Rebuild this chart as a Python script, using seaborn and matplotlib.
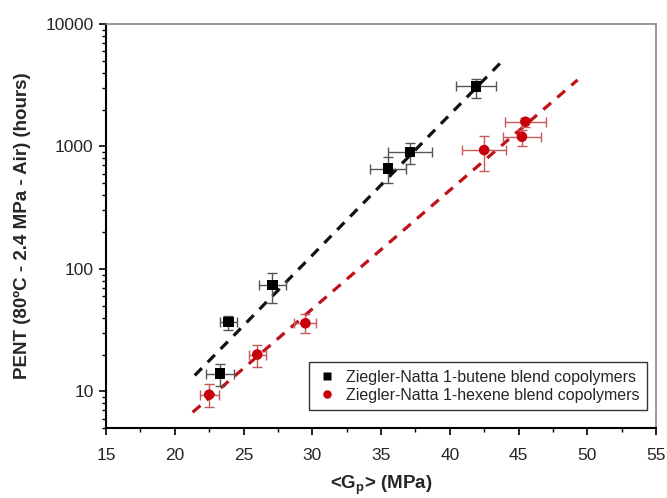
import numpy as np
import pandas as pd
import matplotlib
matplotlib.use("Agg")
import matplotlib.pyplot as plt
import seaborn as sns
from matplotlib.ticker import LogLocator, NullFormatter, MultipleLocator, FixedLocator

sns.set_style("white")
plt.rcParams['font.family'] = ['Liberation Sans', 'DejaVu Sans']

# ---- data ----
series_names = ["Ziegler-Natta 1-butene blend copolymers",
                "Ziegler-Natta 1-hexene blend copolymers"]

butene_gp = [41.9, 37.1, 35.5, 27.1, 23.9, 23.3]
butene_pent = [3100, 900, 660, 74, 37, 14]
butene_xerr = [1.45, 1.6, 1.3, 1.0, 0.6, 1.0]
butene_ylo = [2500, 713, 502, 53, 32, 11]
butene_yhi = [3560, 1070, 813, 93, 41, 16.8]

hexene_gp = [45.5, 45.25, 42.5, 29.5, 26.0, 22.5]
hexene_pent = [1590, 1200, 933, 36, 20, 9.4]
hexene_xerr = [1.5, 1.4, 1.6, 0.8, 0.6, 0.7]
hexene_ylo = [1450, 1010, 628, 30, 15.8, 7.4]
hexene_yhi = [1700, 1360, 1222, 43, 23.8, 11.5]

# fitted trend lines (end points)
butene_fit_x = [21.45, 43.95]
butene_fit_y = [13.5, 5150]
hexene_fit_x = [21.3, 49.3]
hexene_fit_y = [6.76, 3490]

x_ticks = [15, 20, 25, 30, 35, 40, 45, 50, 55]
y_ticks = [10, 100, 1000, 10000]

black = "#000000"
red = "#c8000a"

df = pd.DataFrame({
    "Gp": butene_gp + hexene_gp,
    "PENT": butene_pent + hexene_pent,
    "series": [series_names[0]] * len(butene_gp) + [series_names[1]] * len(hexene_gp),
})
fit_df = pd.DataFrame({
    "Gp": butene_fit_x + hexene_fit_x,
    "PENT": butene_fit_y + hexene_fit_y,
    "series": [series_names[0]] * 2 + [series_names[1]] * 2,
})

fig = plt.figure(figsize=(6.67, 4.98), dpi=100)
ax = fig.add_axes([0.159, 0.140, 0.8245, 0.812])

palette = {series_names[0]: black, series_names[1]: red}

# trend lines
for name, lc in [(series_names[0], "#111111"), (series_names[1], "#c0101a")]:
    sub = fit_df[fit_df.series == name]
    sns.lineplot(data=sub, x="Gp", y="PENT", ax=ax, color=lc, lw=2.3,
                 linestyle=(0, (3.2, 2.6)), legend=False, zorder=2)

# error bars
for gp, pent, xe, lo, hi, ec in [
        (butene_gp, butene_pent, butene_xerr, butene_ylo, butene_yhi, "#555555"),
        (hexene_gp, hexene_pent, hexene_xerr, hexene_ylo, hexene_yhi, "#c45a5a")]:
    gp = np.array(gp); pent = np.array(pent)
    yerr = np.vstack([pent - np.array(lo), np.array(hi) - pent])
    ax.errorbar(gp, pent, xerr=xe, yerr=yerr, fmt="none", ecolor=ec,
                elinewidth=1.0, capsize=3.5, capthick=1.0, zorder=3)

sns.scatterplot(data=df, x="Gp", y="PENT", hue="series", style="series",
                markers={series_names[0]: "s", series_names[1]: "o"},
                palette=palette, s=58, edgecolor="none", ax=ax, zorder=4)

ax.set_yscale("log")
ax.set_xlim(15, 55)
ax.set_ylim(5, 10000)

ax.xaxis.set_major_locator(FixedLocator(x_ticks))
ax.xaxis.set_minor_locator(MultipleLocator(2.5))
ax.yaxis.set_major_locator(FixedLocator(y_ticks))
ax.yaxis.set_minor_locator(LogLocator(base=10, subs=np.arange(2, 10)))
ax.yaxis.set_minor_formatter(NullFormatter())
ax.set_yticklabels([str(v) for v in y_ticks])
ax.set_xticklabels([str(v) for v in x_ticks])

ax.tick_params(axis="both", which="major", direction="out", length=5, width=1.2,
               labelsize=12.5, color="black", pad=4, bottom=True, left=True)
ax.tick_params(axis="x", which="major", pad=9)
ax.tick_params(axis="both", which="minor", direction="out", length=3, width=1.0,
               color="black", bottom=True, left=True)
ax.tick_params(top=False, right=False, which="both")

for side in ["left", "bottom"]:
    ax.spines[side].set_color("black")
    ax.spines[side].set_linewidth(1.5)
for side in ["top", "right"]:
    ax.spines[side].set_color("#888888")
    ax.spines[side].set_linewidth(1.2)

ax.set_xlabel(r"<G$_\mathregular{p}$> (MPa)", fontsize=13.5, fontweight="bold", labelpad=8)
ax.set_ylabel("PENT (80ºC - 2.4 MPa - Air) (hours)", fontsize=13.5, fontweight="bold", labelpad=10)

leg = ax.legend(loc="lower right", bbox_to_anchor=(0.984, 0.045), borderaxespad=0,
                frameon=True, fancybox=False, fontsize=11.55, handletextpad=0.5,
                borderpad=0.45, labelspacing=0.2, markerscale=0.8, handlelength=1.4)
leg.get_frame().set_edgecolor("#333333")
leg.get_frame().set_linewidth(1.0)
leg.get_frame().set_alpha(1)

fig.savefig("out.png", dpi=100)
